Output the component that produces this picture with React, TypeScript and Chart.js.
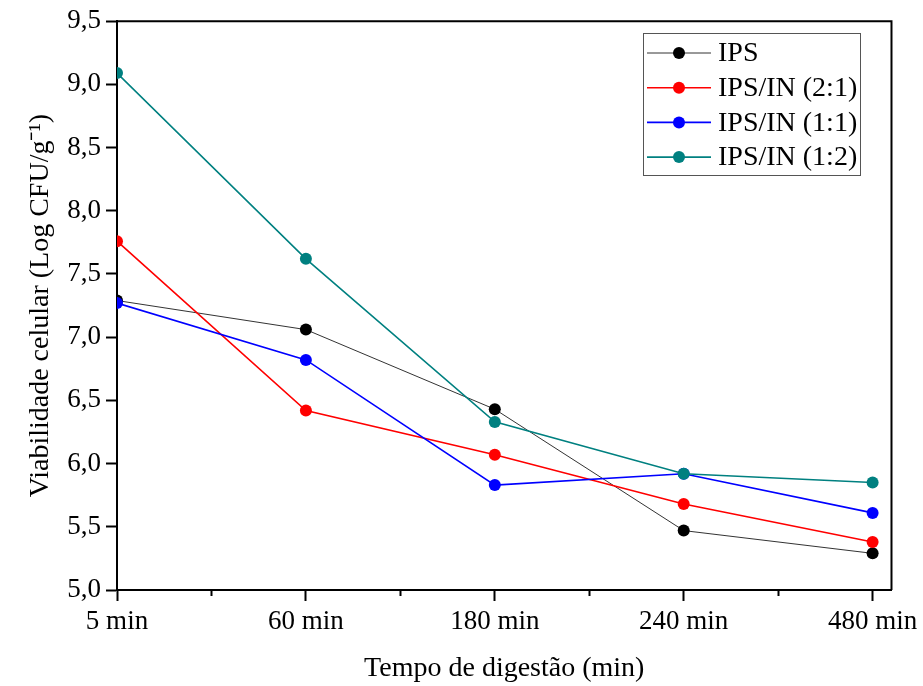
import React, { useEffect, useRef } from "react";
import { Chart, registerables } from "chart.js";

Chart.register(...registerables);

const categories = ["5 min", "60 min", "180 min", "240 min", "480 min"];
const minorTickPositions = [0.5, 1.5, 2.5, 3.5];
const seriesNames = ["IPS", "IPS/IN (2:1)", "IPS/IN (1:1)", "IPS/IN (1:2)"];
const ipsValues = [7.29, 7.06, 6.43, 5.47, 5.29];
const ips21Values = [7.76, 6.42, 6.07, 5.68, 5.38];
const ips11Values = [7.27, 6.82, 5.83, 5.92, 5.61];
const ips12Values = [9.09, 7.62, 6.33, 5.92, 5.85];
const seriesColors = ["#000000", "#FF0000", "#0000FF", "#008080"];
const lineColors = ["#333333", "#FF0000", "#0000FF", "#008080"];
const lineWidths = [1, 1.6, 1.6, 1.6];

const FONT = "'Liberation Serif', 'Times New Roman', serif";

const legendPlugin = {
  id: "boxLegend",
  afterDraw(chart: any) {
    const ctx = chart.ctx;
    const x0 = 643, y0 = 33, w = 217, h = 142;
    ctx.save();
    ctx.strokeStyle = "#555555";
    ctx.lineWidth = 1;
    ctx.strokeRect(x0 + 0.5, y0 + 0.5, w, h);
    chart.data.datasets.forEach((ds: any, i: number) => {
      const cy = 53 + i * 34.7;
      ctx.strokeStyle = ds.borderColor;
      ctx.lineWidth = ds.borderWidth;
      ctx.beginPath();
      ctx.moveTo(647, cy);
      ctx.lineTo(711, cy);
      ctx.stroke();
      ctx.fillStyle = ds.pointBackgroundColor;
      ctx.beginPath();
      ctx.arc(679, cy, 6, 0, Math.PI * 2);
      ctx.fill();
      ctx.fillStyle = "#000";
      ctx.font = "28px " + FONT;
      ctx.textBaseline = "middle";
      ctx.textAlign = "left";
      ctx.fillText(ds.label, 718, cy + 1);
    });
    ctx.restore();
  },
};

const framePlugin = {
  id: "frame",
  beforeDatasetsDraw(chart: any) {
    const { ctx, chartArea } = chart;
    ctx.save();
    ctx.strokeStyle = "#000";
    ctx.lineWidth = 2;
    ctx.beginPath();
    ctx.moveTo(chartArea.left, chartArea.top);
    ctx.lineTo(chartArea.right, chartArea.top);
    ctx.lineTo(chartArea.right, chartArea.bottom);
    ctx.stroke();
    ctx.restore();
  },
};

const clipPlugin = {
  id: "areaClip",
  beforeDatasetsDraw(chart: any) {
    const { ctx, chartArea } = chart;
    ctx.save();
    ctx.beginPath();
    ctx.rect(chartArea.left, chartArea.top, chartArea.right - chartArea.left, chartArea.bottom - chartArea.top);
    ctx.clip();
  },
  afterDatasetsDraw(chart: any) {
    chart.ctx.restore();
  },
};

export default function App() {
  const ref = useRef<HTMLCanvasElement>(null);
  useEffect(() => {
    if (!ref.current) return;
    const all = [ipsValues, ips21Values, ips11Values, ips12Values];
    const chart = new Chart(ref.current, {
      type: "line",
      data: {
        datasets: all.map((vals, i) => ({
          label: seriesNames[i],
          data: vals.map((y, idx) => ({ x: idx, y })),
          borderColor: lineColors[i],
          borderWidth: lineWidths[i],
          pointBackgroundColor: seriesColors[i],
          pointBorderColor: seriesColors[i],
          pointRadius: 6,
          pointBorderWidth: 0,
          pointHoverRadius: 6,
          tension: 0,
          fill: false,
          clip: 0,
          order: 3 - i,
        })),
      },
      options: {
        animation: false,
        responsive: false,
        events: [],
        layout: { padding: { top: 19, right: 30, left: 0, bottom: 0 } },
        plugins: { legend: { display: false }, tooltip: { enabled: false } },
        scales: {
          x: {
            type: "linear",
            position: "bottom",
            weight: 1,
            min: 0,
            max: 4.1,
            afterBuildTicks: (scale: any) => {
              scale.ticks = categories.map((_, i) => ({ value: i }));
            },
            afterFit: (scale: any) => {
              scale.height = 96;
            },
            ticks: {
              color: "#000",
              font: { family: FONT, size: 27 },
              padding: 5,
              maxRotation: 0,
              autoSkip: false,
              callback: (v: any) => categories[Math.round(Number(v))] ?? "",
            },
            grid: {
              display: true,
              drawOnChartArea: false,
              tickLength: 11,
              tickWidth: 2,
              tickColor: "#000",
            },
            border: { display: true, color: "#000", width: 2 },
            title: {
              display: true,
              text: "Tempo de digestão (min)",
              color: "#000",
              font: { family: FONT, size: 28 },
              padding: { top: 0, bottom: 1 },
            },
          },
          x2: {
            type: "linear",
            position: "bottom",
            weight: 0,
            min: 0,
            max: 4.1,
            afterBuildTicks: (scale: any) => {
              scale.ticks = minorTickPositions.map((value) => ({ value }));
            },
            afterFit: (scale: any) => {
              scale.height = 0;
            },
            ticks: { display: false },
            grid: {
              display: true,
              drawOnChartArea: false,
              tickLength: 6,
              tickWidth: 2,
              tickColor: "#000",
            },
            border: { display: false },
          },
          y: {
            type: "linear",
            position: "left",
            min: 5,
            max: 9.5,
            afterFit: (scale: any) => {
              scale.width = 117;
            },
            ticks: {
              stepSize: 0.5,
              color: "#000",
              font: { family: FONT, size: 27 },
              padding: 5,
              callback: (v: any) => Number(v).toFixed(1).replace(".", ","),
            },
            grid: {
              display: true,
              drawOnChartArea: false,
              tickLength: 11,
              tickWidth: 2,
              tickColor: "#000",
            },
            border: { display: true, color: "#000", width: 2 },
            title: {
              display: true,
              text: "Viabilidade celular (Log CFU/g⁻¹)",
              color: "#000",
              font: { family: FONT, size: 28 },
              padding: { top: 24, bottom: 0 },
            },
          },
        },
      },
      plugins: [framePlugin, clipPlugin, legendPlugin],
    });
    return () => chart.destroy();
  }, []);
  return (
    <div style={{ position: "absolute", left: 0, top: 0, width: 923, height: 686, background: "#fff" }}>
      <canvas ref={ref} width={923} height={686} style={{ width: 923, height: 686, display: "block" }} />
    </div>
  );
}
